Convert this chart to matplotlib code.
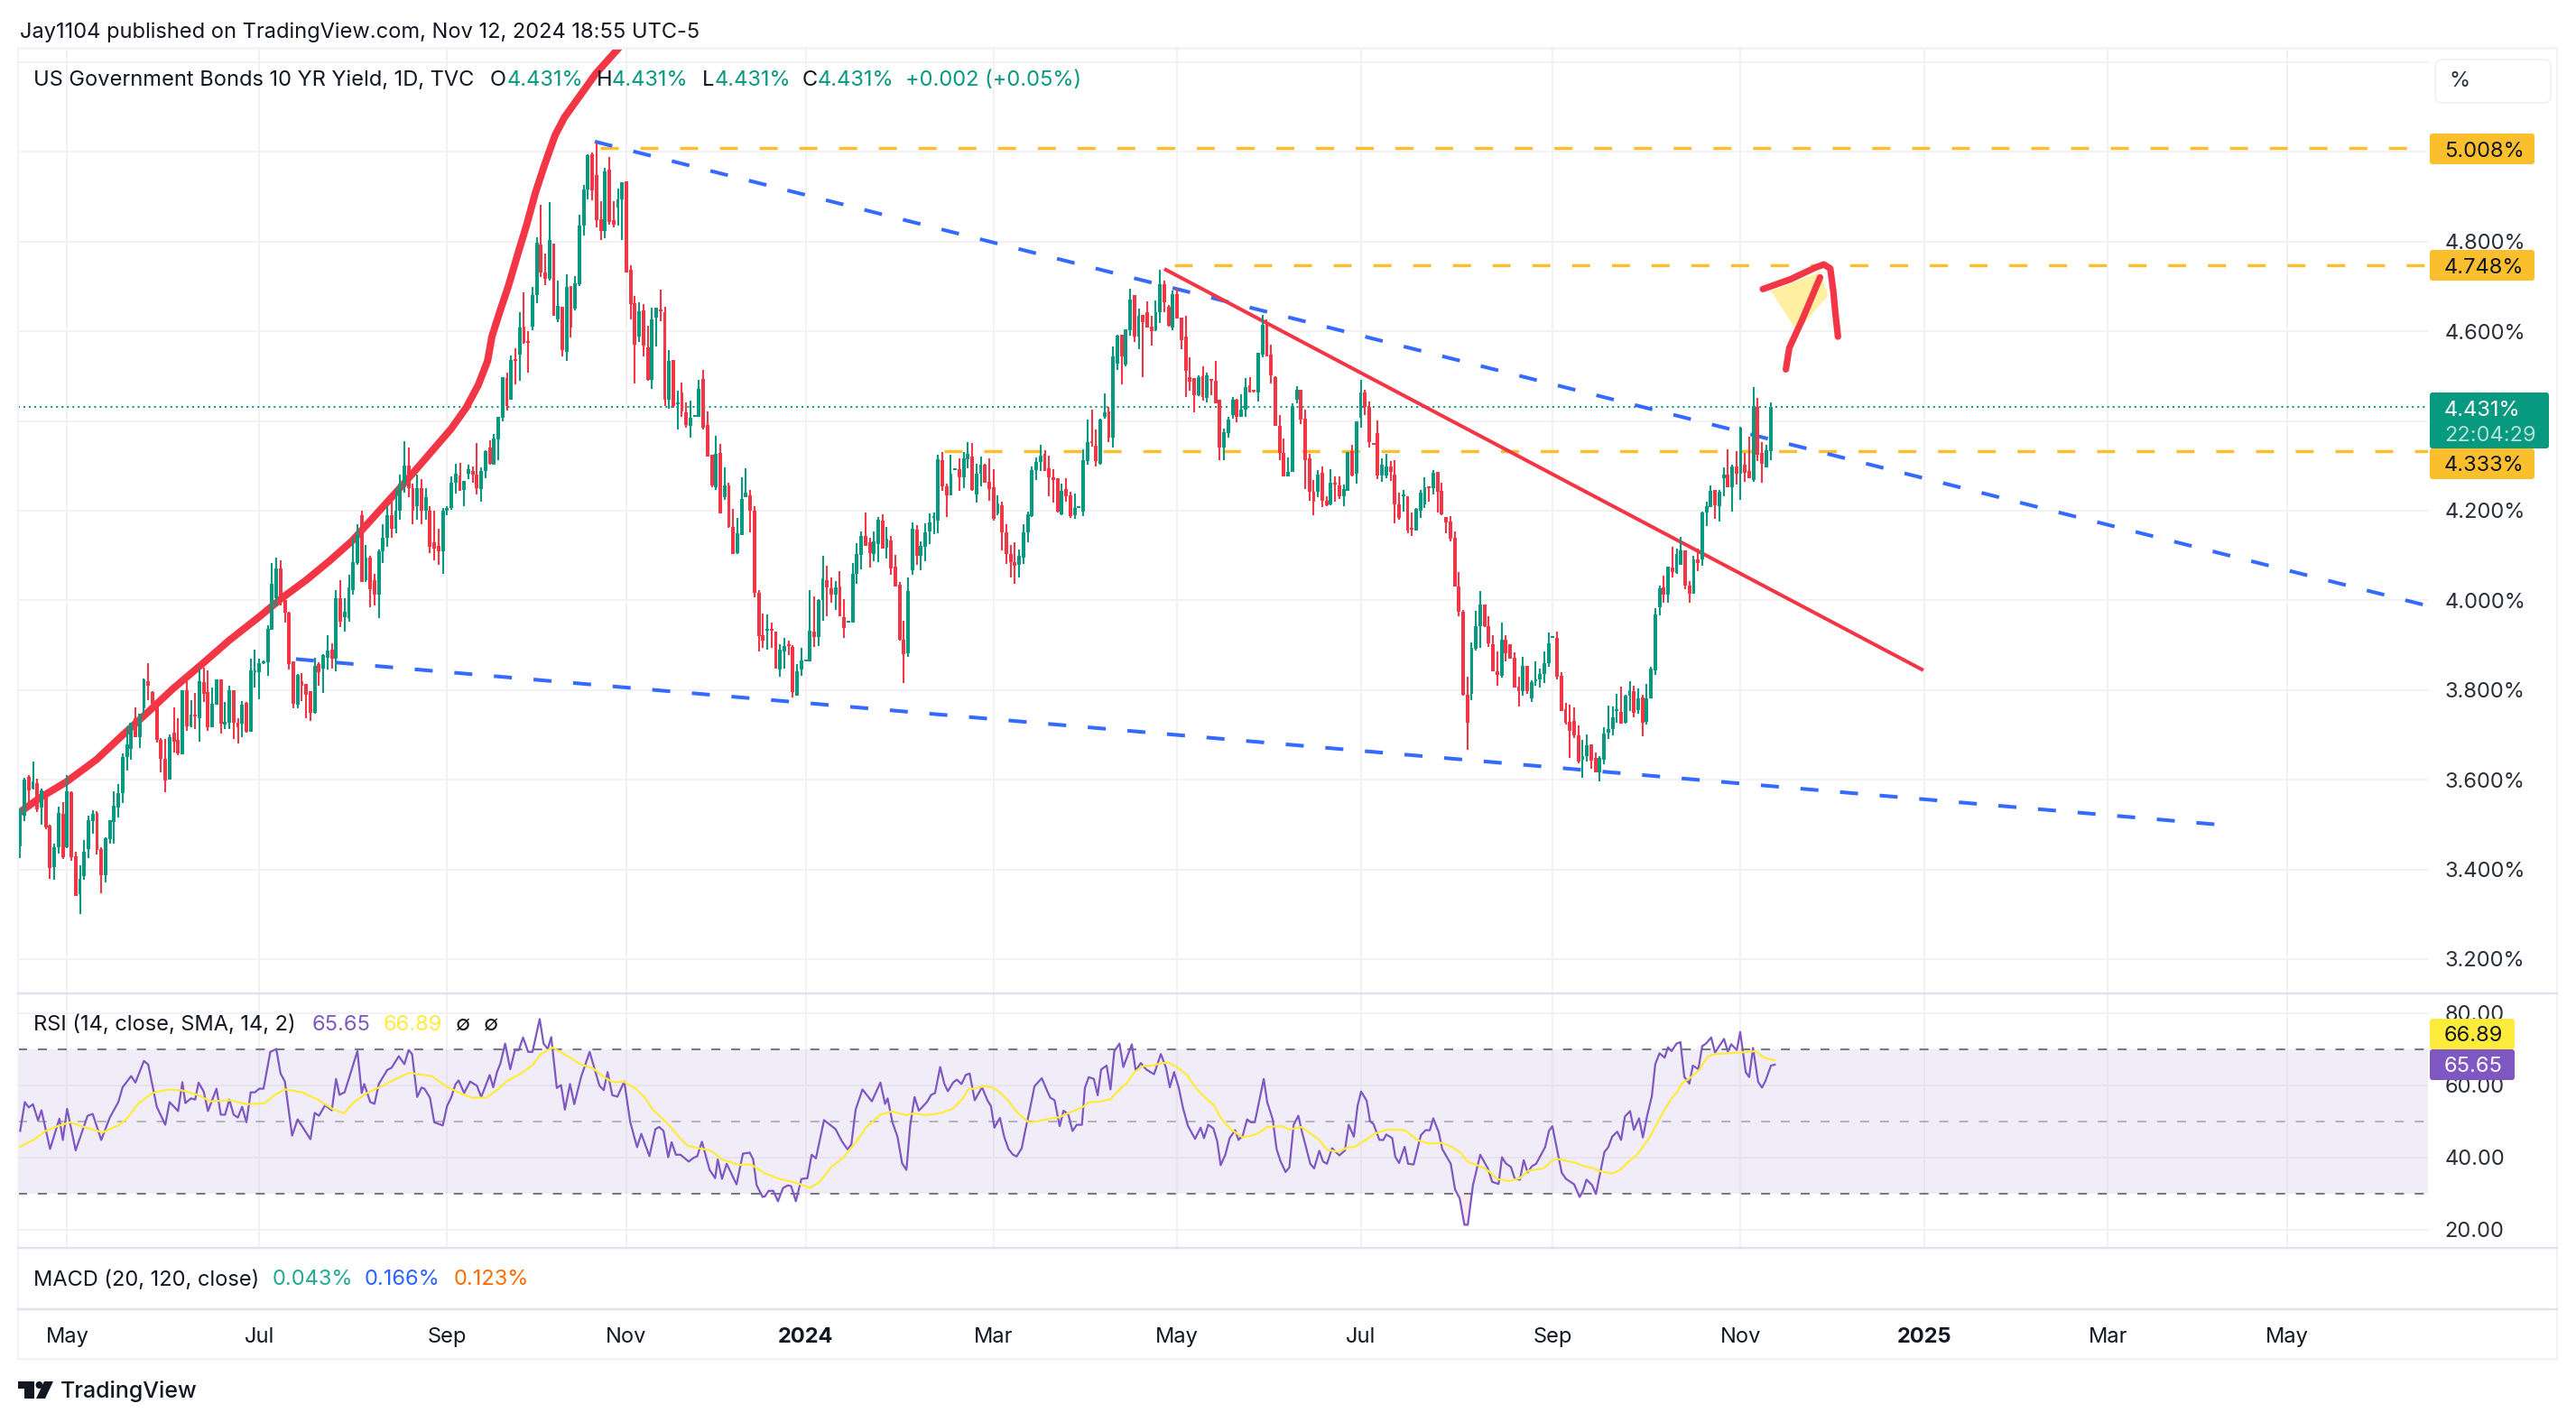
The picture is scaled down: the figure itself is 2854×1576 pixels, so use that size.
import numpy as np
import matplotlib
matplotlib.use('Agg')
import matplotlib.pyplot as plt
from matplotlib.patches import FancyBboxPatch, Polygon, Circle
from matplotlib.transforms import blended_transform_factory

plt.rcParams['font.family'] = ['Inter', 'DejaVu Sans']
plt.rcParams['lines.scale_dashes'] = False

W, H = 2854, 1576
UP = '#089981'
DOWN = '#F23645'
GRID = '#F2F2F4'
SEP = '#E0E3EB'
FRAME = '#F0F3FA'
TXT = '#131722'
AXTXT = '#2A2E39'
ORANGE = '#FBBF2D'
BLUE = '#2962FF'
PURPLE = '#7E57C2'
YELLOW = '#FFEB3B'
FONT = 17

# daily candles
open_vals = [
    3.452,3.52,3.607,3.58,3.592,3.537,3.562,3.497,3.405,3.45,
    3.524,3.45,3.572,3.43,3.345,3.385,3.445,3.508,3.525,3.446,
    3.387,3.468,3.505,3.537,3.57,3.65,3.668,3.737,3.695,3.76,
    3.82,3.796,3.767,3.689,3.646,3.6,3.705,3.689,3.656,3.80,
    3.72,3.744,3.738,3.817,3.795,3.718,3.767,3.823,3.724,3.727,
    3.80,3.727,3.725,3.772,3.707,3.84,3.839,3.86,3.861,3.934,
    4.005,4.072,4.0,3.972,3.863,3.767,3.819,3.813,3.797,3.75,
    3.858,3.848,3.872,3.891,3.87,4.004,3.963,3.96,4.022,4.083,
    4.19,4.045,4.096,4.044,4.012,4.11,4.14,4.19,4.16,4.2,
    4.26,4.3,4.25,4.21,4.25,4.2,4.2,4.13,4.122,4.11,
    4.2,4.205,4.262,4.278,4.247,4.283,4.289,4.28,4.249,4.289,
    4.341,4.303,4.358,4.408,4.496,4.448,4.537,4.548,4.611,4.578,
    4.611,4.68,4.793,4.731,4.716,4.796,4.627,4.655,4.554,4.701,
    4.65,4.705,4.836,4.917,4.994,4.949,4.85,4.823,4.96,4.848,
    4.875,4.895,4.935,4.738,4.663,4.589,4.647,4.564,4.492,4.63,
    4.647,4.642,4.448,4.536,4.437,4.464,4.42,4.39,4.409,4.41,
    4.494,4.391,4.325,4.252,4.328,4.231,4.256,4.164,4.105,4.146,
    4.23,4.234,4.2,4.017,3.922,3.933,3.936,3.93,3.846,3.887,
    3.901,3.897,3.787,3.846,3.864,3.864,3.931,3.918,4.0,4.044,
    4.027,4.012,4.03,3.963,3.951,3.951,4.059,4.101,4.143,4.129,
    4.103,4.126,4.178,4.117,4.134,4.076,4.034,3.913,3.881,4.067,
    4.158,4.099,4.119,4.154,4.183,4.177,4.312,4.255,4.234,4.29,
    4.292,4.275,4.315,4.321,4.236,4.282,4.302,4.265,4.252,4.193,
    4.211,4.151,4.104,4.086,4.079,4.095,4.152,4.187,4.29,4.308,
    4.327,4.294,4.275,4.272,4.191,4.248,4.234,4.19,4.205,4.198,
    4.311,4.354,4.344,4.304,4.409,4.421,4.363,4.528,4.593,4.526,
    4.603,4.68,4.588,4.636,4.643,4.611,4.603,4.642,4.705,4.654,
    4.609,4.683,4.631,4.588,4.497,4.495,4.457,4.499,4.452,4.492,
    4.489,4.447,4.34,4.373,4.413,4.448,4.41,4.425,4.48,4.467,
    4.464,4.548,4.615,4.548,4.497,4.39,4.328,4.276,4.286,4.447,
    4.469,4.405,4.316,4.242,4.242,4.284,4.222,4.213,4.262,4.256,
    4.232,4.244,4.332,4.283,4.408,4.464,4.432,4.35,4.373,4.279,
    4.278,4.298,4.28,4.213,4.232,4.232,4.161,4.155,4.2,4.213,
    4.253,4.25,4.287,4.244,4.185,4.176,4.139,4.03,3.975,3.79,
    3.792,3.893,3.943,3.99,3.942,3.903,3.842,3.832,3.913,3.903,
    3.872,3.808,3.798,3.854,3.782,3.82,3.823,3.836,3.859,3.916,
    3.917,3.831,3.758,3.73,3.732,3.699,3.644,3.652,3.678,3.648,
    3.616,3.644,3.705,3.713,3.753,3.752,3.728,3.787,3.797,3.755,
    3.783,3.73,3.782,3.844,3.985,4.028,4.012,4.074,4.062,4.079,
    4.111,4.032,4.015,4.092,4.091,4.196,4.208,4.247,4.21,4.272,
    4.281,4.252,4.299,4.282,4.302,4.289,4.268,4.431,4.328,4.297,4.332,
]
high_vals = [
    3.535,3.605,3.61,3.64,3.603,3.58,3.565,3.5,3.457,3.54,
    3.55,3.61,3.574,3.44,3.41,3.466,3.52,3.532,3.53,3.45,
    3.472,3.51,3.575,3.59,3.658,3.72,3.727,3.762,3.747,3.826,
    3.859,3.797,3.77,3.693,3.69,3.7,3.762,3.737,3.80,3.82,
    3.778,3.794,3.848,3.849,3.844,3.805,3.823,3.823,3.774,3.809,
    3.80,3.738,3.776,3.774,3.869,3.891,3.869,3.866,3.945,4.083,
    4.095,4.09,4.0,3.975,3.864,3.836,3.838,3.814,3.797,3.872,
    3.861,3.879,3.922,3.905,4.022,4.044,4.004,4.058,4.14,4.17,
    4.2,4.123,4.1,4.06,4.113,4.17,4.21,4.22,4.25,4.28,
    4.355,4.34,4.26,4.28,4.27,4.25,4.21,4.2,4.16,4.205,
    4.21,4.276,4.305,4.306,4.266,4.303,4.298,4.351,4.296,4.334,
    4.356,4.371,4.409,4.497,4.507,4.546,4.562,4.643,4.687,4.6,
    4.699,4.809,4.882,4.774,4.887,4.796,4.713,4.655,4.728,4.701,
    4.723,4.86,4.927,4.995,4.999,5.021,4.889,4.965,4.989,4.89,
    4.918,4.932,4.935,4.748,4.678,4.665,4.66,4.613,4.653,4.653,
    4.693,4.655,4.558,4.536,4.467,4.486,4.442,4.446,4.412,4.492,
    4.514,4.421,4.325,4.366,4.348,4.296,4.262,4.203,4.183,4.275,
    4.294,4.247,4.209,4.022,3.97,3.968,3.95,3.93,3.902,3.917,
    3.91,3.901,3.857,3.895,3.868,4.022,4.008,4.003,4.099,4.078,
    4.052,4.042,4.066,4.003,3.953,4.083,4.127,4.153,4.196,4.139,
    4.153,4.185,4.191,4.164,4.143,4.101,4.04,3.955,4.052,4.174,
    4.167,4.132,4.171,4.193,4.195,4.325,4.33,4.26,4.325,4.293,
    4.317,4.33,4.352,4.35,4.305,4.32,4.305,4.317,4.293,4.234,
    4.221,4.169,4.124,4.129,4.114,4.169,4.197,4.299,4.319,4.346,
    4.334,4.322,4.292,4.272,4.26,4.272,4.242,4.238,4.207,4.336,
    4.403,4.426,4.38,4.405,4.461,4.431,4.566,4.593,4.593,4.605,
    4.695,4.68,4.651,4.636,4.667,4.635,4.669,4.738,4.713,4.658,
    4.69,4.697,4.631,4.635,4.542,4.495,4.501,4.521,4.507,4.492,
    4.534,4.447,4.383,4.41,4.454,4.45,4.46,4.495,4.497,4.468,
    4.552,4.637,4.627,4.571,4.5,4.413,4.36,4.319,4.44,4.477,
    4.469,4.425,4.326,4.269,4.291,4.298,4.232,4.293,4.276,4.276,
    4.258,4.331,4.346,4.4,4.492,4.469,4.444,4.35,4.401,4.316,
    4.326,4.31,4.313,4.24,4.247,4.232,4.195,4.205,4.247,4.275,
    4.253,4.29,4.287,4.262,4.185,4.187,4.153,4.064,3.979,3.829,
    3.907,3.976,4.02,3.99,3.965,3.923,3.886,3.951,3.923,3.903,
    3.885,3.83,3.874,3.854,3.821,3.864,3.847,3.887,3.928,3.918,
    3.931,3.84,3.772,3.768,3.762,3.722,3.688,3.701,3.678,3.661,
    3.653,3.718,3.766,3.763,3.792,3.807,3.79,3.819,3.809,3.804,
    3.789,3.814,3.852,3.983,4.032,4.056,4.075,4.119,4.116,4.141,
    4.111,4.042,4.099,4.116,4.198,4.221,4.257,4.247,4.247,4.297,
    4.336,4.302,4.332,4.386,4.329,4.364,4.476,4.451,4.352,4.347,4.441,
]
low_vals = [
    3.425,3.507,3.54,3.578,3.527,3.50,3.49,3.38,3.376,3.435,
    3.423,3.448,3.42,3.34,3.30,3.378,3.425,3.48,3.433,3.346,
    3.37,3.458,3.458,3.515,3.548,3.62,3.644,3.695,3.67,3.747,
    3.778,3.77,3.682,3.616,3.572,3.6,3.66,3.654,3.656,3.708,
    3.718,3.712,3.685,3.774,3.709,3.718,3.767,3.702,3.713,3.712,
    3.69,3.68,3.695,3.705,3.707,3.805,3.78,3.858,3.831,3.934,
    3.987,3.989,3.95,3.846,3.759,3.76,3.775,3.737,3.732,3.747,
    3.81,3.794,3.846,3.848,3.841,3.94,3.93,3.953,4.012,4.08,
    4.04,4.04,3.985,3.988,3.96,4.083,4.12,4.14,4.15,4.18,
    4.24,4.23,4.17,4.18,4.17,4.18,4.106,4.09,4.08,4.06,
    4.19,4.202,4.239,4.244,4.21,4.27,4.262,4.237,4.22,4.272,
    4.303,4.303,4.313,4.399,4.424,4.448,4.482,4.49,4.573,4.508,
    4.603,4.663,4.72,4.702,4.712,4.635,4.62,4.544,4.533,4.587,
    4.647,4.7,4.813,4.893,4.891,4.831,4.803,4.808,4.838,4.831,
    4.836,4.804,4.732,4.627,4.484,4.576,4.544,4.489,4.472,4.566,
    4.623,4.434,4.428,4.43,4.381,4.409,4.385,4.363,4.409,4.41,
    4.381,4.321,4.252,4.247,4.194,4.224,4.162,4.104,4.103,4.146,
    4.23,4.151,4.007,3.886,3.894,3.891,3.894,3.848,3.829,3.848,
    3.877,3.783,3.787,3.831,3.864,3.864,3.896,3.899,3.954,3.964,
    3.995,3.979,3.964,3.916,3.951,3.951,4.037,4.07,4.121,4.074,
    4.087,4.085,4.116,4.093,4.058,4.03,3.911,3.815,3.874,4.058,
    4.079,4.067,4.087,4.125,4.148,4.15,4.244,4.186,4.234,4.29,
    4.245,4.25,4.294,4.244,4.218,4.255,4.262,4.223,4.178,4.189,
    4.111,4.081,4.052,4.037,4.052,4.081,4.129,4.185,4.268,4.288,
    4.288,4.232,4.217,4.196,4.189,4.221,4.183,4.181,4.205,4.187,
    4.302,4.342,4.299,4.302,4.405,4.352,4.341,4.513,4.482,4.521,
    4.591,4.577,4.561,4.497,4.608,4.569,4.6,4.618,4.642,4.611,
    4.603,4.629,4.561,4.454,4.468,4.42,4.455,4.446,4.442,4.458,
    4.44,4.313,4.313,4.363,4.405,4.397,4.41,4.41,4.464,4.464,
    4.444,4.542,4.543,4.484,4.39,4.313,4.276,4.276,4.286,4.439,
    4.393,4.249,4.222,4.19,4.23,4.207,4.21,4.212,4.219,4.227,
    4.21,4.244,4.276,4.26,4.385,4.413,4.34,4.346,4.271,4.264,
    4.272,4.266,4.172,4.179,4.198,4.15,4.143,4.155,4.183,4.206,
    4.22,4.237,4.195,4.19,4.15,4.131,4.03,3.964,3.788,3.666,
    3.778,3.889,3.894,3.94,3.896,3.841,3.809,3.827,3.864,3.87,
    3.805,3.764,3.787,3.792,3.773,3.809,3.805,3.815,3.852,3.916,
    3.823,3.753,3.723,3.648,3.693,3.636,3.604,3.641,3.624,3.616,
    3.597,3.634,3.69,3.698,3.728,3.725,3.725,3.753,3.74,3.747,
    3.697,3.723,3.782,3.834,3.966,3.995,3.995,4.052,4.06,4.079,
    4.025,3.995,4.015,4.065,4.077,4.166,4.208,4.181,4.176,4.232,
    4.252,4.198,4.258,4.224,4.264,4.272,4.265,4.311,4.262,4.297,4.312,
]
close_vals = [
    3.529,3.60,3.577,3.596,3.534,3.577,3.493,3.403,3.45,3.526,
    3.427,3.575,3.428,3.34,3.38,3.44,3.51,3.523,3.443,3.387,
    3.47,3.509,3.541,3.57,3.65,3.678,3.727,3.695,3.747,3.823,
    3.809,3.77,3.689,3.646,3.598,3.695,3.685,3.658,3.80,3.72,
    3.745,3.741,3.819,3.792,3.718,3.77,3.823,3.725,3.729,3.80,
    3.727,3.717,3.768,3.707,3.843,3.844,3.859,3.864,3.937,4.036,
    4.071,4.0,3.972,3.858,3.769,3.834,3.81,3.789,3.75,3.854,
    3.84,3.878,3.888,3.87,4.004,3.952,3.974,4.028,4.085,4.15,
    4.04,4.096,4.025,4.013,4.11,4.14,4.19,4.16,4.2,4.26,
    4.3,4.25,4.2,4.25,4.2,4.23,4.12,4.116,4.11,4.2,
    4.205,4.262,4.283,4.244,4.266,4.293,4.28,4.251,4.289,4.333,
    4.304,4.361,4.409,4.497,4.434,4.536,4.534,4.608,4.575,4.575,
    4.68,4.797,4.731,4.717,4.803,4.635,4.656,4.557,4.699,4.609,
    4.707,4.836,4.917,4.992,4.915,4.848,4.823,4.957,4.844,4.838,
    4.893,4.932,4.732,4.66,4.571,4.645,4.569,4.492,4.627,4.652,
    4.644,4.448,4.533,4.434,4.44,4.422,4.392,4.407,4.412,4.472,
    4.385,4.321,4.256,4.326,4.194,4.256,4.164,4.104,4.149,4.227,
    4.24,4.2,4.017,3.92,3.91,3.936,3.933,3.848,3.89,3.899,
    3.898,3.795,3.842,3.865,3.866,3.933,3.918,4.0,4.048,4.029,
    4.012,4.028,3.964,3.938,3.953,4.06,4.104,4.144,4.122,4.105,
    4.131,4.179,4.116,4.138,4.072,4.03,3.913,3.879,4.021,4.159,
    4.099,4.121,4.152,4.174,4.185,4.315,4.255,4.234,4.282,4.293,
    4.275,4.317,4.326,4.246,4.282,4.302,4.262,4.248,4.181,4.215,
    4.151,4.103,4.085,4.077,4.099,4.151,4.191,4.29,4.309,4.322,
    4.289,4.274,4.268,4.198,4.245,4.232,4.188,4.205,4.207,4.312,
    4.352,4.351,4.311,4.403,4.42,4.362,4.544,4.591,4.544,4.605,
    4.67,4.588,4.635,4.621,4.608,4.6,4.643,4.705,4.665,4.613,
    4.683,4.629,4.581,4.511,4.487,4.457,4.497,4.454,4.501,4.489,
    4.44,4.34,4.375,4.403,4.447,4.41,4.425,4.475,4.464,4.465,
    4.552,4.615,4.544,4.501,4.39,4.328,4.276,4.287,4.434,4.47,
    4.403,4.313,4.242,4.22,4.28,4.222,4.212,4.262,4.259,4.232,
    4.249,4.331,4.279,4.4,4.464,4.432,4.353,4.346,4.279,4.303,
    4.298,4.286,4.213,4.184,4.237,4.156,4.157,4.203,4.241,4.252,
    4.25,4.285,4.242,4.191,4.173,4.138,4.03,3.975,3.79,3.728,
    3.895,3.942,3.99,3.943,3.904,3.841,3.834,3.913,3.881,3.87,
    3.805,3.798,3.854,3.798,3.817,3.823,3.836,3.86,3.905,3.918,
    3.829,3.754,3.728,3.708,3.698,3.641,3.653,3.676,3.642,3.616,
    3.648,3.703,3.713,3.74,3.755,3.725,3.787,3.8,3.75,3.782,
    3.728,3.782,3.847,3.968,4.026,4.012,4.075,4.064,4.103,4.111,
    4.032,4.015,4.092,4.084,4.196,4.209,4.245,4.211,4.242,4.281,
    4.252,4.299,4.282,4.385,4.285,4.272,4.433,4.325,4.304,4.334,4.431,
]

# RSI vertices as seen on the chart: bar position, value
rsi_idx = [
    0,1.1,2,3,4.2,5,7,9.2,10,11,13,15.8,17,19,21,23,24,26,27,29,30,32,34,35,37,38,38.7,40,41,41.8,
    43,44,46,47,48,49,50,51,52,53,54,55,56,57,58.6,60,61,62,63.7,65,68,69,70,71.4,73,74,74.8,76,79,80,
    80.6,82,83,84,86,87,88.7,90,91,91.8,93,94,94.7,96,97,99,100,101,102,102.7,104,105.4,107,108,110,110.8,111.7,112.5,113.6,114.8,
    115.9,116.8,117.8,119,120,121.7,122.6,123.6,124.4,125.7,126.7,127.6,128.8,129.8,131.4,133.4,135.7,136.7,137.6,138.7,139.9,141.5,142.9,144.5,145.5,147.4,148.8,149.7,150.7,151.8,
    152.6,153.6,154.7,156.6,157.7,158.6,159.7,161.5,162.8,163.4,164.4,165.5,167.8,169.3,170.9,171.7,172.5,173.9,174.5,175.3,176.4,177.5,178.7,179.8,180.6,181.7,183,184.4,185.4,186.4,
    188.3,191,192.5,193.8,194.7,195.7,197.3,199.5,201.5,202.6,203.2,204.3,205.5,206.6,207.6,208.5,209.5,210.5,212.4,213.4,214.3,215.5,216.5,217.3,218.6,219.4,220.5,221.5,222.4,223.6,
    225.3,226.6,227.4,228.2,229.5,230.5,231.5,232.5,233.4,234.6,235.5,236.5,237.6,239.3,240.6,241.3,242.3,243.5,244.4,245.5,246.5,247.5,248.7,249.4,250.3,251.5,252.4,253.2,254.5,255.4,
    256.3,257.5,258.4,260.4,261.3,262.5,263.8,265.6,267.2,268.4,269.3,270.3,271.4,272.4,273.5,275.2,276.5,277.3,278.3,279.5,280.4,281.2,282.3,283.3,284.6,285.4,286.4,287.4,288.3,289.2,
    291.3,292.1,293.4,294.3,295.2,296.4,297.3,298.3,299.4,300.2,302.2,303.1,304.3,305.2,306.1,307.3,309,310.3,311.2,312.4,313.3,314.1,315.4,316.2,317,318.4,319.3,320,321.4,322.1,
    323,324.3,325.1,326.4,328.1,329.2,330.2,331,332.3,333.1,335.1,336.1,337.2,338.3,339.1,340.3,342,343.8,344.8,346.3,347.1,348,349.2,350.1,351.3,352.2,353.1,354.1,355.1,357.2,
    358.1,358.9,361.1,362.1,364,365.3,366.1,366.9,368.2,369.1,371.1,372,372.9,374.1,375,375.9,377.1,378,379.2,380.1,381.1,382.2,383,384,385.2,386,386.8,388,388.9,389.8,
    391,391.8,393.1,394,394.9,396.1,397,399.1,400,400.8,402.1,402.9,404.2,405,405.9,407.1,408,408.8,410.1,411,
]
rsi_vals = [
    47.3,55.3,53.8,54.7,50.2,53,42.3,50.7,44.8,53.4,41.9,51.5,52,44.8,51,55.3,59.4,62.5,60.7,66.7,65.7,54,49,55.3,52.8,60.8,55,56.3,56,60.7,
    58.2,52.8,59,51.8,51.8,56,51.8,51,54,49.7,58,58,59,59,69.2,70,63.2,61,46,50.5,45,52.3,51.5,54.4,53,61.7,57.3,58,69.4,57.8,
    60.3,55.3,54.8,60.3,64.2,64.8,68,65.8,69.7,68.6,56.7,59.3,59,56.5,49.7,48.8,54.2,56.7,60.3,61.3,57.8,61,59.8,56.7,62.8,59.4,63.6,66,71.5,64.4,
    69.7,69.7,73.2,69.2,69.2,78.3,71.5,70,73.3,59.2,60,53.2,60.3,54.7,62.3,69.2,59.8,58.6,63.6,57.2,56.8,61,49.8,42.8,46.5,40.3,47.8,48.4,47.3,40,
    44.2,40.7,40.7,38.8,39.8,40.3,44.3,36.5,34.2,39.4,34,38.2,32.5,41,41.3,39.4,32.3,29,29.2,30.7,30.7,27.8,31.5,32.2,32,27.8,34,34.2,40.7,39.7,
    50.3,47.8,44.4,42.2,43.6,53.2,58.8,55.5,60.7,54.8,56.3,49.8,45.7,38.3,36.5,49,56.7,52.9,55.3,57.3,57.8,65,60.3,58.3,60.8,61.5,60.3,62.8,63.2,55.8,
    59.4,55.7,54.2,48.2,50.9,45.7,42.3,40.8,40.2,42.5,47.8,53.2,59.7,61.9,58.3,56.5,55.8,48.6,52.9,51.9,47.3,49,49,59.2,62.2,61.7,57.2,64.3,65.4,58.8,
    69.4,71.5,65,71.3,64,66.1,64.3,63,68.6,64.8,59.4,63.6,59.2,53.6,48.8,45.1,48.2,45.3,49,48,44.4,37.8,40.7,45.3,47.5,44.8,46.1,50.5,49.7,49.7,
    61.7,55.3,50.5,42.3,39,35.9,37.2,49,51.5,47.3,38.2,36.9,41.8,38.8,38.2,42.5,40.5,41.9,49,45.7,54.4,58.2,55.7,50,49.2,44.8,44.8,46.3,45.3,40.1,
    38.4,42.9,38.2,38,46.1,47.5,47.5,50.8,46.9,42.3,38.2,31.1,28.6,21.3,21.3,32.3,40.7,36.9,33.2,32.6,40,38.3,37.3,34,33.8,39.2,35.8,37.5,38.2,42.8,
    47.3,48.6,35.7,34,32.5,29,30.8,33.8,32.3,29.8,41.5,42.8,45.7,47.1,44.8,51.3,52.8,47.6,50.8,45.5,51.5,56.9,65.8,68.8,67.6,70.5,69.4,71.5,71.9,62.3,
    60.4,65.4,64.4,70.8,71.5,73.2,69,72.8,69.3,71.3,69.7,74.7,63.6,62.2,70.3,60.9,59.3,61.1,65.4,65.65,
]

# RSI moving average, read at the points where the curve bends
sma_idx = [
    0,3.4,6,9.2,11.7,15.5,19.3,23,25,27.6,31,34.4,37.7,41.8,44.5,49.2,53.2,57.3,59.7,62,66,70,73.4,75.9,78.2,81.5,84.9,88.3,91.2,96.4,
    99.7,103,105.8,109.2,111.9,113.9,117.3,120,122,124.7,127.4,131.4,134.1,136.8,138.8,141.5,144.2,146.2,148.2,151.6,154.3,156.3,159,161.7,164.4,168.5,171.2,174.5,177.9,181.9,
    185,187.3,190,192.7,195.4,198.1,201.5,204.2,207.4,209.5,212,215.2,218.4,220.7,222.2,223.6,225.8,227.5,229.3,231.4,233.5,236.3,238.4,241.3,243.4,246.2,249,250.4,252.5,255.4,
    257.5,259.4,261,263.1,265.2,267.3,269.1,271.2,273.3,275.4,278.3,279.7,281.1,283.5,286.4,288.8,290.6,292,295.5,297.3,300.1,301.9,304.3,306.1,308.9,311,312.4,315.2,317.2,320.2,
    324.4,327.2,330,332.9,335.3,337.4,339,342,344.1,345.9,348.7,351.3,353.3,356.8,358.9,360.3,364.6,366,368.1,370.2,372.9,374.8,376.2,378.7,381.8,384,385,386.8,388.2,389.2,
    391.4,393.3,395.2,396.6,399.8,402.6,406.5,408.6,411,
]
sma_vals = [
    42.9,45,47.3,48.8,49.7,48.2,46.9,48.8,50.7,54.8,57.8,58.7,58.6,57.2,55.5,55.8,54.7,55,57.3,58.8,58,55.8,53.2,52.2,55.3,58,59.8,61.9,63.4,62.5,
    59.7,57.8,56.5,56.5,58.8,61,63.2,65.5,68.6,70.4,68.6,65.7,64.7,62.2,60.8,60.9,59,56.7,53.2,49.4,45.7,43.2,42.5,41.9,39.4,37.9,38,35.5,34,32.9,
    31.5,33.2,37.3,39.8,43.6,48.2,51.8,52.7,51.7,52.2,51.7,52.1,53.4,56.1,59,59,59.7,59.4,58.2,55.8,52.5,49.6,50,50.7,51.1,52.6,54,55.3,55.3,56.1,
    58.8,60.7,63.6,65.3,65.4,66.1,66.2,64.8,62.8,59.2,55.7,54.4,51.1,47.8,45.5,46.1,47.1,48.4,48.6,47.7,48.4,46.9,44.8,42.1,41.5,42.8,42.8,44.8,46.5,47.7,
    47.5,44.8,43.8,44,42.9,41.3,38.8,37.5,36.1,34,33.4,34.2,36.3,36.9,39.2,39.5,38.4,37.6,37.1,36.1,35.5,36.5,38.2,40.7,45.7,50.7,52.8,56.3,58.2,60.4,
    62.2,64.2,67.8,68.5,68.8,69,69.4,67.5,66.9,
]

# thick hand-fitted moving average on the price pane
ma_idx = [-0.3,4.7,10.8,17.9,23.6,30.2,35.8,42.5,49,55.7,61.3,67,72.6,77.8,89.4,101,104.5,107.3,109.5,110.5,112.3,114.4,116.5,118.6,120.7,122.8,125.3,127.5,134.8,141]
ma_vals = [3.526,3.56,3.595,3.645,3.696,3.753,3.803,3.857,3.911,3.961,4.005,4.045,4.089,4.133,4.255,4.383,4.43,4.48,4.534,4.588,4.642,4.702,4.77,4.836,4.909,4.97,5.037,5.077,5.174,5.24]

# drawings: start/end bar and price
blue_upper = ([134.6, 563.0], [5.023, 3.99])
blue_lower = ([64.6, 514.7], [3.869, 3.5])
red_trend = ([268.0, 445.8], [4.739, 3.844])
level_starts = [135.9, 270.4, 216.4]
level_values = [5.008, 4.748, 4.333]
last_price = 4.431

arrow_shaft = ([413.6, 414.4, 417.4, 421.6], [4.515, 4.563, 4.625, 4.72])
arrow_head = ([408.2, 414.7, 420.5, 422.5, 424.0, 424.7, 425.2, 425.8], [4.694, 4.716, 4.742, 4.749, 4.74, 4.69, 4.64, 4.588])
arrow_fill = ([410.1, 421.6, 423.5, 416.2], [4.69, 4.732, 4.68, 4.6])

price_ticks = [3.2, 3.4, 3.6, 3.8, 4.0, 4.2, 4.4, 4.6, 4.8, 5.0, 5.2]
rsi_ticks = [20, 40, 60, 80]
month_ticks = [11, 56, 100, 142, 184, 228, 271, 314, 359, 403, 446, 489, 531]
month_labels = ['May', 'Jul', 'Sep', 'Nov', '2024', 'Mar', 'May', 'Jul', 'Sep', 'Nov', '2025', 'Mar', 'May']


def pane(left, top, right, bottom):
    ax = fig.add_axes([left / W, 1 - bottom / H, (right - left) / W, (bottom - top) / H])
    ax.set_xlim(-0.49, 564)
    for s in ax.spines.values():
        s.set_visible(False)
    ax.set_axisbelow(True)
    ax.patch.set_alpha(0)
    return ax


fig = plt.figure(figsize=(W / 100, H / 100), dpi=100, facecolor='white')

# price pane
ax = pane(20, 53, 2690, 1101)
ax.set_ylim(3.1235, 5.232)
ax.set_xticks(month_ticks)
ax.set_xticklabels([])
ax.set_yticks(price_ticks)
ax.set_yticklabels([f'{t:.3f}%' if t < 5 else '' for t in price_ticks])
ax.yaxis.tick_right()
ax.tick_params(axis='both', length=0)
ax.tick_params(axis='y', pad=13.2, labelsize=FONT, labelcolor=AXTXT)
ax.grid(True, color=GRID, linewidth=1.44)

dash = (0, (14.4, 17.3))
for start, level in zip(level_starts, level_values):
    ax.plot([start, 564], [level, level], color=ORANGE, lw=2.5, ls=dash, dash_capstyle='butt', zorder=3)
ax.axhline(last_price, color=UP, lw=1.44, ls=(0, (1.44, 2.9)), zorder=3)
ax.plot(*blue_upper, color=BLUE, lw=2.9, ls=dash, dash_capstyle='butt', zorder=3, alpha=0.95)
ax.plot(*blue_lower, color=BLUE, lw=2.9, ls=dash, dash_capstyle='butt', zorder=3, alpha=0.95)
ax.plot(*red_trend, color=DOWN, lw=2.9, solid_capstyle='butt', zorder=3)
ax.plot(ma_idx, ma_vals, color=DOWN, lw=5.8, solid_capstyle='butt', zorder=3)

# candles
xs = np.arange(len(close_vals))
opens = np.array(open_vals)
closes = np.array(close_vals)
colors = np.where(closes >= opens, UP, DOWN)
ax.vlines(xs, low_vals, high_vals, colors=colors, lw=1.5, zorder=4)
ax.bar(xs, np.maximum(np.abs(closes - opens), 0.004), bottom=np.minimum(opens, closes),
       width=0.82, color=colors, linewidth=0, zorder=4)

# hand-drawn arrow
ax.add_patch(Polygon(np.column_stack(arrow_fill), closed=True, color='#FFEFA0', lw=0, zorder=5))
for path in (arrow_shaft, arrow_head):
    ax.plot(*path, color=DOWN, lw=5.2, solid_capstyle='round', solid_joinstyle='round', zorder=6)

# RSI pane
ax_rsi = pane(20, 1101, 2690, 1383)
ax_rsi.set_ylim(14.9, 85.4)
ax_rsi.set_xticks(month_ticks)
ax_rsi.set_xticklabels([])
ax_rsi.set_yticks(rsi_ticks)
ax_rsi.set_yticklabels([f'{t:.2f}' for t in rsi_ticks])
ax_rsi.yaxis.tick_right()
ax_rsi.tick_params(axis='both', length=0)
ax_rsi.tick_params(axis='y', pad=13.2, labelsize=FONT, labelcolor=AXTXT)
ax_rsi.grid(True, color=GRID, linewidth=1.44)
ax_rsi.axhspan(30, 70, color=PURPLE, alpha=0.1, lw=0, zorder=1)
rsi_dash = (0, (7.2, 8.6))
ax_rsi.axhline(70, color='#787B86', lw=1.5, ls=rsi_dash, dash_capstyle='butt', zorder=2)
ax_rsi.axhline(30, color='#787B86', lw=1.5, ls=rsi_dash, dash_capstyle='butt', zorder=2)
ax_rsi.axhline(50, color='#787B86', lw=1.5, ls=rsi_dash, dash_capstyle='butt', alpha=0.5, zorder=2)
ax_rsi.fill_between(rsi_idx, rsi_vals, 30, where=np.array(rsi_vals) < 30, interpolate=True,
                    color=DOWN, alpha=0.1, lw=0, zorder=2)
ax_rsi.plot(rsi_idx, rsi_vals, color=PURPLE, lw=1.6, zorder=3, solid_joinstyle='round')
ax_rsi.plot(sma_idx, sma_vals, color=YELLOW, lw=1.6, zorder=4)

# time axis
ax_time = pane(20, 1451, 2690, 1506)
ax_time.set_ylim(0, 1)
ax_time.set_xticks([])
ax_time.set_yticks([])
time_tf = blended_transform_factory(ax_time.transData, ax_time.transAxes)
for t, lab in zip(month_ticks, month_labels):
    bold = lab.isdigit()
    ax_time.text(t, 0.44, lab, transform=time_tf, ha='center', va='center', fontsize=FONT,
                 color=TXT, fontweight='bold' if bold else 'normal')

# frame, legends and axis badges in pixel coordinates
deco = fig.add_axes([0, 0, 1, 1], zorder=20)
deco.set_xlim(0, W)
deco.set_ylim(H, 0)
deco.axis('off')
deco.patch.set_alpha(0)

deco.plot([20, 2833], [53, 53], color=FRAME, lw=2)
deco.plot([20, 2833], [1506, 1506], color=FRAME, lw=2)
deco.plot([20, 20], [53, 1506], color=FRAME, lw=1.5)
deco.plot([2833, 2833], [53, 1506], color=FRAME, lw=1.5)
for y in (1101, 1383, 1451):
    deco.plot([20, 2833], [y, y], color=SEP, lw=1.7)


def label(x, y, s, color=TXT, size=FONT, **kw):
    deco.text(x, y + 2.5, s, color=color, fontsize=size, va='center', ha=kw.pop('ha', 'left'), **kw)


def badge(x0, x1, y0, y1, color):
    deco.add_patch(FancyBboxPatch((x0, y0), x1 - x0, y1 - y0, boxstyle='round,pad=0,rounding_size=3',
                                  fc=color, ec='none', mutation_aspect=1))


label(22, 33, 'Jay1104 published on TradingView.com, Nov 12, 2024 18:55 UTC-5')

label(37, 86, 'US Government Bonds 10 YR Yield, 1D, TVC')
for x, s, col in [(543, 'O', TXT), (562, '4.431%', UP), (661, 'H', TXT), (678, '4.431%', UP),
                  (778, 'L', TXT), (792, '4.431%', UP), (889, 'C', TXT), (906, '4.431%', UP),
                  (1003, '+0.002 (+0.05%)', UP)]:
    label(x, 86, s, col)

deco.add_patch(FancyBboxPatch((2698, 66), 128, 48, boxstyle='round,pad=0,rounding_size=8',
                              fc='white', ec=FRAME, lw=1.5))
label(2713, 87, '%', AXTXT)

badge(2692, 2808, 148, 182, ORANGE)
label(2708, 165, '5.008%')
badge(2692, 2808, 277, 311, ORANGE)
label(2708, 294, '4.748%')
badge(2692, 2824, 435, 497, UP)
label(2708, 452, '4.431%', 'white')
label(2708, 480, '22:04:29', '#B5E0D6')
badge(2692, 2808, 497, 531, ORANGE)
label(2708, 514, '4.333%')

label(37, 1133, 'RSI (14, close, SMA, 14, 2)')
label(346, 1133, '65.65', PURPLE)
label(425, 1133, '66.89', YELLOW)
label(513, 1133, '∅', TXT, ha='center')
label(544, 1133, '∅', TXT, ha='center')
badge(2692, 2786, 1129, 1163, YELLOW)
label(2708, 1146, '66.89')
badge(2692, 2786, 1163, 1197, PURPLE)
label(2708, 1180, '65.65', 'white')

label(37, 1416, 'MACD (20, 120, close)')
label(302, 1416, '0.043%', '#22AB94')
label(404, 1416, '0.166%', BLUE)
label(503, 1416, '0.123%', '#FF6D00')

# TradingView logo
deco.add_patch(Polygon([(20, 1531), (38, 1531), (38, 1550), (27, 1550), (27, 1539), (20, 1539)], color=TXT, lw=0))
deco.add_patch(Circle((43.5, 1535), 4, color=TXT, lw=0))
deco.add_patch(Polygon([(49, 1531), (59, 1531), (50, 1550), (40, 1550)], color=TXT, lw=0))
label(67, 1540, 'TradingView', TXT, size=18, fontweight='medium')

fig.savefig('out.png', dpi=100)
